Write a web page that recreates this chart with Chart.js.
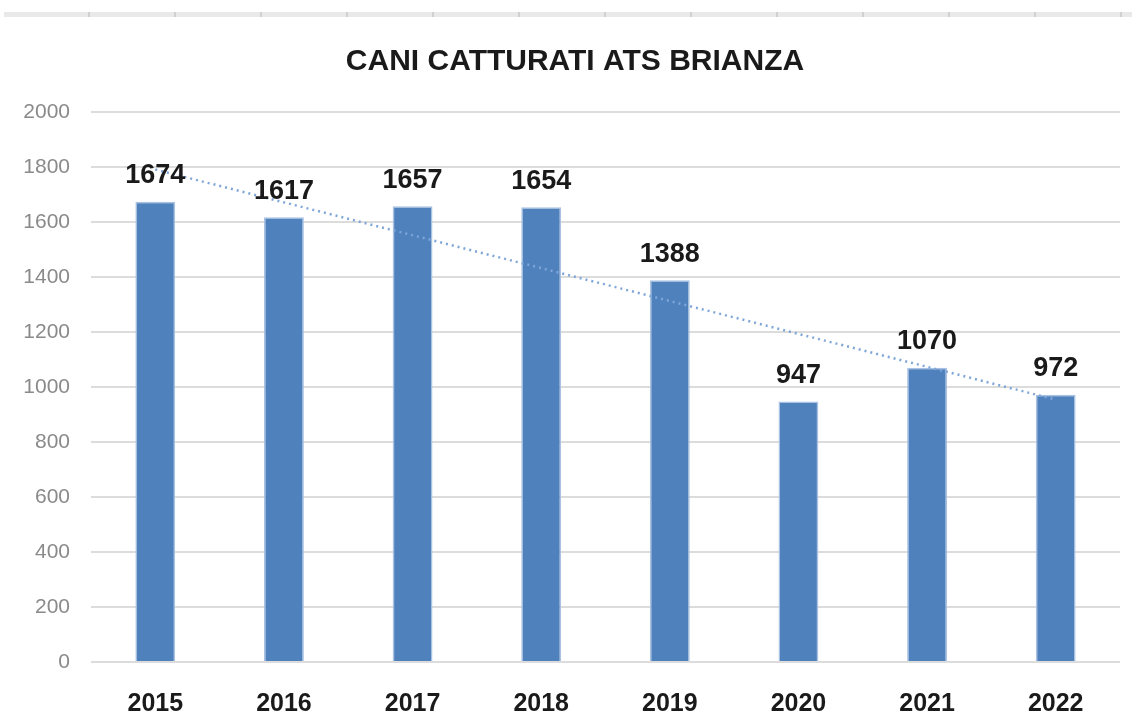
<!DOCTYPE html>
<html>
<head>
<meta charset="utf-8">
<title>Cani catturati ATS Brianza</title>
<script src="https://cdn.jsdelivr.net/npm/chart.js@4"></script>
<style>
    html, body { margin: 0; padding: 0; background: #fff; }
    #wrap { position: relative; width: 1132px; height: 725px; }
    #strip {
        position: absolute; left: 4px; right: 0; top: 12px; height: 5px;
        background: repeating-linear-gradient(90deg, #e9e9e9 0 84px, #d0d0d0 84px 86px);
    }
</style>
</head>
<body>
<div id="wrap">
    <div id="strip"></div>
    <canvas id="grafico" width="1132" height="725"></canvas>
</div>
<script>
        // Dati
        const anni = ['2015', '2016', '2017', '2018', '2019', '2020', '2021', '2022'];
        const caniCatturati = [1674, 1617, 1657, 1654, 1388, 947, 1070, 972];
        // linea di tendenza: solo estremi
        const tendenza = [1791, null, null, null, null, null, null, 954];
        const ticksY = [0, 200, 400, 600, 800, 1000, 1200, 1400, 1600, 1800, 2000];

        const FONT = '"Liberation Sans", Arial, sans-serif';

        // Etichette sopra le barre
        const etichette = {
            id: 'etichette',
            afterLayout(chart) {
                // sposta un po' il titolo a destra, come nell'originale
                if (chart.titleBlock) chart.titleBlock.left += 30;
            },
            afterDatasetsDraw(chart) {
                const ctx = chart.ctx;
                const meta = chart.getDatasetMeta(1);
                ctx.save();
                ctx.font = 'bold 27px ' + FONT;
                ctx.fillStyle = '#1a1a1a';
                ctx.textAlign = 'center';
                ctx.textBaseline = 'middle';
                meta.data.forEach((bar, i) => {
                    ctx.fillText(String(caniCatturati[i]), bar.x, bar.y - 26);
                });
                ctx.restore();
            }
        };

        const chartData = {
            labels: anni,
            datasets: [
                {
                    type: 'line',
                    label: 'Tendenza',
                    data: tendenza,
                    spanGaps: true,
                    borderColor: '#7FA6D8',
                    borderWidth: 2.5,
                    borderDash: [2, 4],
                    pointRadius: 0,
                    fill: false,
                    order: 0
                },
                {
                    type: 'bar',
                    label: 'Cani catturati',
                    data: caniCatturati,
                    backgroundColor: '#4F81BD',
                    borderColor: '#A9C2E3',
                    borderWidth: 1.5,
                    barPercentage: 0.62,
                    categoryPercentage: 0.5,
                    order: 1
                }
            ]
        };

        const chartOptions = {
            responsive: false,
            animation: false,
            layout: { padding: { left: 0, right: 12, top: 15, bottom: 0 } },
            plugins: {
                legend: { display: false },
                tooltip: { enabled: false },
                title: {
                    display: true,
                    text: 'CANI CATTURATI ATS BRIANZA',
                    color: '#1a1a1a',
                    font: { family: FONT, size: 30, weight: 'bold' },
                    padding: { top: 29, bottom: 32 }
                }
            },
            scales: {
                x: {
                    afterFit(scale) { scale.height = 63; },
                    grid: { display: false, drawTicks: false },
                    border: { display: false },
                    ticks: {
                        color: '#1a1a1a',
                        padding: 27,
                        font: { family: FONT, size: 25, weight: 'bold' }
                    }
                },
                y: {
                    min: 0,
                    max: 2000,
                    afterBuildTicks(scale) {
                        scale.ticks = ticksY.map(v => ({ value: v }));
                    },
                    afterFit(scale) { scale.width = 91; },
                    grid: { color: '#dcdcdc', lineWidth: 2, drawTicks: false },
                    border: { display: false },
                    ticks: {
                        color: '#8a8a8a',
                        padding: 21,
                        callback: v => String(v),
                        font: { family: FONT, size: 21 }
                    }
                }
            }
        };

        const canvas = document.getElementById('grafico');
        const ctx = canvas.getContext('2d');
        const chart = new Chart(ctx, {
            data: chartData,
            options: chartOptions,
            plugins: [etichette]
        });
</script>
</body>
</html>
